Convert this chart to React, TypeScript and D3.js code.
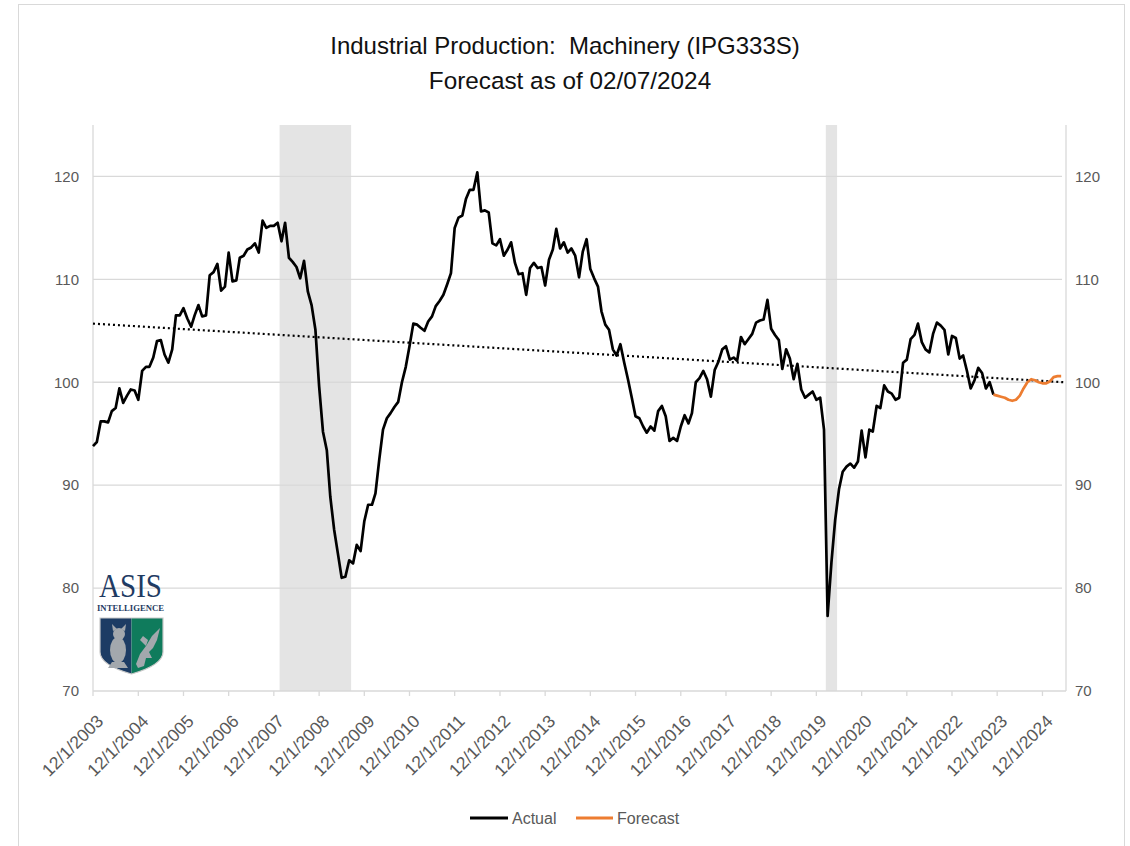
import React from 'react';
import * as d3 from 'd3';

// ---------- DATA ----------
const actualStart = '2003-12-01';
const actualValues = [
  93.8, 94.2, 96.2, 96.2, 96.1, 97.2, 97.5, 99.4, 98.0, 98.7, 99.3, 99.2,
  98.3, 101.1, 101.5, 101.5, 102.4, 104.0, 104.1, 102.7, 101.9, 103.2, 106.5, 106.5,
  107.2, 106.2, 105.4, 106.5, 107.5, 106.4, 106.5, 110.4, 110.7, 111.5, 108.9, 109.3,
  112.6, 109.8, 109.9, 112.1, 112.3, 112.9, 113.1, 113.5, 112.6, 115.7, 115.0, 115.2,
  115.2, 115.5, 113.7, 115.5, 112.1, 111.7, 111.2, 110.1, 111.8, 108.8, 107.5, 105.1,
  99.6, 95.2, 93.4, 88.9, 85.7, 83.4, 81.0, 81.1, 82.7, 82.4, 84.2, 83.6,
  86.5, 88.1, 88.1, 89.2, 92.5, 95.4, 96.5, 97.0, 97.6, 98.1, 100.0, 101.5,
  103.5, 105.7, 105.6, 105.3, 105.0, 105.9, 106.4, 107.4, 107.9, 108.5, 109.5, 110.6,
  115.0, 116.0, 116.2, 117.8, 118.7, 118.7, 120.4, 116.6, 116.7, 116.5, 113.5, 113.3,
  113.9, 112.3, 112.9, 113.6, 111.6, 110.5, 110.6, 108.5, 111.1, 111.6, 111.1, 111.2,
  109.4, 111.9, 112.9, 114.9, 113.0, 113.6, 112.6, 113.0, 112.3, 110.2, 112.7, 113.9,
  111.0, 110.1, 109.3, 106.9, 105.6, 105.1, 103.2, 102.6, 103.7, 101.9, 100.3, 98.5,
  96.7, 96.5, 95.7, 95.1, 95.7, 95.3, 97.2, 97.7, 96.7, 94.3, 94.6, 94.3,
  95.7, 96.8, 96.0, 97.0, 100.0, 100.4, 101.1, 100.3, 98.6, 101.2, 102.0, 103.2,
  103.5, 102.2, 102.4, 102.1, 104.4, 103.7, 104.2, 104.7, 105.8, 106.0, 106.1, 108.0,
  105.2, 104.6, 104.1, 101.3, 103.2, 102.3, 100.3, 101.8, 99.3, 98.5, 98.8, 99.1,
  98.3, 98.5, 95.4, 77.3, 82.5, 86.6, 89.6, 91.3, 91.8, 92.1, 91.7, 92.3,
  95.3, 92.7, 95.4, 95.2, 97.7, 97.5, 99.7, 99.1, 98.9, 98.3, 98.5, 101.9,
  102.2, 104.2, 104.6, 105.7, 103.9, 103.2, 102.9, 104.7, 105.8, 105.5, 105.1, 102.7,
  104.5, 104.3, 102.3, 102.6, 101.1, 99.4, 100.2, 101.4, 100.9, 99.4, 100.0, 98.8,
];
const forecastStart = '2023-11-01';
const forecastValues = [
  98.8, 98.7, 98.6, 98.5, 98.3, 98.2, 98.3, 98.7, 99.4, 100.0,
  100.3, 100.2, 100.0, 99.9, 99.9, 100.1, 100.5, 100.6, 100.6,
];
const trendDates = ['2003-12-01', '2025-06-01'];
const trendValues = [105.7, 100.0];
const recessionStarts = ['2008-02-01', '2020-03-01'];
const recessionEnds = ['2009-08-01', '2020-05-01'];
const yTicks = [70, 80, 90, 100, 110, 120];
const xTickDates = [
  '2003-12-01', '2004-12-01', '2005-12-01', '2006-12-01', '2007-12-01', '2008-12-01',
  '2009-12-01', '2010-12-01', '2011-12-01', '2012-12-01', '2013-12-01', '2014-12-01',
  '2015-12-01', '2016-12-01', '2017-12-01', '2018-12-01', '2019-12-01', '2020-12-01',
  '2021-12-01', '2022-12-01', '2023-12-01', '2024-12-01',
];
const xTickLabels = [
  '12/1/2003', '12/1/2004', '12/1/2005', '12/1/2006', '12/1/2007', '12/1/2008',
  '12/1/2009', '12/1/2010', '12/1/2011', '12/1/2012', '12/1/2013', '12/1/2014',
  '12/1/2015', '12/1/2016', '12/1/2017', '12/1/2018', '12/1/2019', '12/1/2020',
  '12/1/2021', '12/1/2022', '12/1/2023', '12/1/2024',
];
const xDomain = ['2003-12-01', '2025-06-01'];
const yDomain = [70, 125];
const titleLines = ['Industrial Production:  Machinery (IPG333S)', 'Forecast as of 02/07/2024'];
const legendLabels = ['Actual', 'Forecast'];

// ---------- CHART ----------
const W = 1130;
const H = 846;
const M = { left: 93, right: 1065, top: 125, bottom: 691 };
const FONT = "'Liberation Sans', Arial, sans-serif";
const GRAY_TEXT = '#595959';
const GRID = '#d9d9d9';
const ORANGE = '#ED7D31';

const parse = d3.timeParse('%Y-%m-%d');

export default function App() {
  const x = d3.scaleTime().domain(xDomain.map((d) => parse(d) as Date)).range([M.left, M.right]);
  const y = d3.scaleLinear().domain(yDomain).range([M.bottom, M.top]);

  const a0 = parse(actualStart) as Date;
  const actual = actualValues.map((v, i) => ({ date: d3.timeMonth.offset(a0, i), v }));
  const f0 = parse(forecastStart) as Date;
  const forecast = forecastValues.map((v, i) => ({ date: d3.timeMonth.offset(f0, i), v }));
  const trend = trendDates.map((d, i) => ({ date: parse(d) as Date, v: trendValues[i] }));

  const line = d3
    .line<{ date: Date; v: number }>()
    .x((d) => x(d.date))
    .y((d) => y(d.v));

  const bands = recessionStarts.map((s, i) => {
    const sd = parse(s) as Date;
    const ed = parse(recessionEnds[i]) as Date;
    const left = (x(sd) + x(d3.timeMonth.offset(sd, -1))) / 2;
    const right = (x(ed) + x(d3.timeMonth.offset(ed, 1))) / 2;
    return { left, right };
  });

  return (
    <svg
      width={W}
      height={H}
      viewBox={`0 0 ${W} ${H}`}
      style={{ position: 'absolute', left: 0, top: 0, background: '#fff' }}
      fontFamily={FONT}
    >
      <rect x={0} y={0} width={W} height={H} fill="#fff" />
      {/* outer chart frame */}
      <rect x={18.5} y={4.5} width={1106} height={H + 20} fill="none" stroke="#d9d9d9" strokeWidth={1} />

      {/* title */}
      <text x={565} y={54} textAnchor="middle" fontSize={24} fill="#111" style={{ whiteSpace: 'pre' }}>
        {titleLines[0]}
      </text>
      <text x={570} y={89} textAnchor="middle" fontSize={24.3} fill="#111">
        {titleLines[1]}
      </text>

      {/* recession bands */}
      {bands.map((b, i) => (
        <rect key={i} x={b.left} y={M.top} width={b.right - b.left} height={M.bottom - M.top} fill="#e4e4e4" />
      ))}

      {/* gridlines */}
      {yTicks.filter((t) => t !== yDomain[0]).map((t) => (
        <line key={t} x1={M.left} x2={M.right - 3} y1={y(t)} y2={y(t)} stroke={GRID} strokeWidth={1.3} />
      ))}

      {/* axes */}
      <line x1={M.left} x2={M.left} y1={M.top} y2={M.bottom} stroke={GRID} strokeWidth={1.3} />
      <line x1={M.right + 1} x2={M.right + 1} y1={M.top} y2={M.bottom} stroke={GRID} strokeWidth={1.3} />
      <line x1={M.left} x2={M.right + 1} y1={M.bottom} y2={M.bottom} stroke={GRID} strokeWidth={1.3} />
      {xTickDates.map((d) => {
        const xx = x(parse(d) as Date);
        return <line key={d} x1={xx} x2={xx} y1={M.bottom} y2={M.bottom + 5} stroke={GRID} strokeWidth={1.3} />;
      })}

      {/* y labels */}
      {yTicks.map((t) => (
        <g key={t}>
          <text x={M.left - 14} y={y(t)} dy="0.35em" textAnchor="end" fontSize={15} fill={GRAY_TEXT}>
            {t}
          </text>
          <text x={M.right + 10} y={y(t)} dy="0.35em" textAnchor="start" fontSize={15} fill={GRAY_TEXT}>
            {t}
          </text>
        </g>
      ))}

      {/* x labels */}
      {xTickDates.map((d, i) => {
        const xx = x(parse(d) as Date);
        return (
          <text
            key={d}
            transform={`translate(${xx + 7},${M.bottom + 27}) rotate(-45)`}
            textAnchor="end"
            dy="0.35em"
            fontSize={17.5}
            fill={GRAY_TEXT}
          >
            {xTickLabels[i]}
          </text>
        );
      })}

      {/* trend */}
      <path d={line(trend) || ''} fill="none" stroke="#000" strokeWidth={2.2} strokeDasharray="2 3" />

      {/* series */}
      <path d={line(actual) || ''} fill="none" stroke="#000" strokeWidth={2.7} strokeLinejoin="round" />
      <path d={line(forecast) || ''} fill="none" stroke={ORANGE} strokeWidth={2.7} strokeLinejoin="round" />

      {/* logo */}
      <g>
        <text x={99} y={597} fontFamily="'Liberation Serif', 'DejaVu Serif', serif" fontSize={34} fill="#1f3b63" textLength={63} lengthAdjust="spacingAndGlyphs">
          ASIS
        </text>
        <text x={97} y={611} fontFamily="'Liberation Serif', 'DejaVu Serif', serif" fontSize={9} fontWeight="bold" fill="#1f3b63" textLength={67} lengthAdjust="spacingAndGlyphs">
          INTELLIGENCE
        </text>
        <path d="M100,618 H131.5 V674 Q100,665 100,652 Z" fill="#1d3c64" />
        <path d="M131.5,618 H163 V652 Q163,665 131.5,674 Z" fill="#0f7b5c" />
        <path d="M100,618 H163 V652 Q163,665 131.5,674 Q100,665 100,652 Z" fill="none" stroke="#c9c9c9" strokeWidth={1.2} />
        {/* owl */}
        <ellipse cx={118} cy={650} rx={8} ry={13} fill="#a3a8ad" />
        <circle cx={119} cy={634} r={6} fill="#a3a8ad" />
        <path d="M113,631 L112,624 L117,629 Z M125,631 L126,624 L121,629 Z" fill="#a3a8ad" />
        <path d="M112,662 L108,668 L128,668 L124,662 Z" fill="#a3a8ad" />
        {/* eagle */}
        <path d="M136,664 L140,654 L146,646 L152,636 L160,628 L157,640 L153,648 L149,652 L152,658 L146,658 L144,666 L138,668 Z" fill="#a3a8ad" />
        <path d="M146,646 L140,640 L143,636 L148,640 Z" fill="#a3a8ad" />
      </g>

      {/* legend */}
      <line x1={470} x2={508} y1={818} y2={818} stroke="#000" strokeWidth={3} />
      <text x={512} y={818} dy="0.35em" fontSize={16} fill={GRAY_TEXT}>
        {legendLabels[0]}
      </text>
      <line x1={576} x2={613} y1={818} y2={818} stroke={ORANGE} strokeWidth={3} />
      <text x={617} y={818} dy="0.35em" fontSize={16} fill={GRAY_TEXT}>
        {legendLabels[1]}
      </text>
    </svg>
  );
}
